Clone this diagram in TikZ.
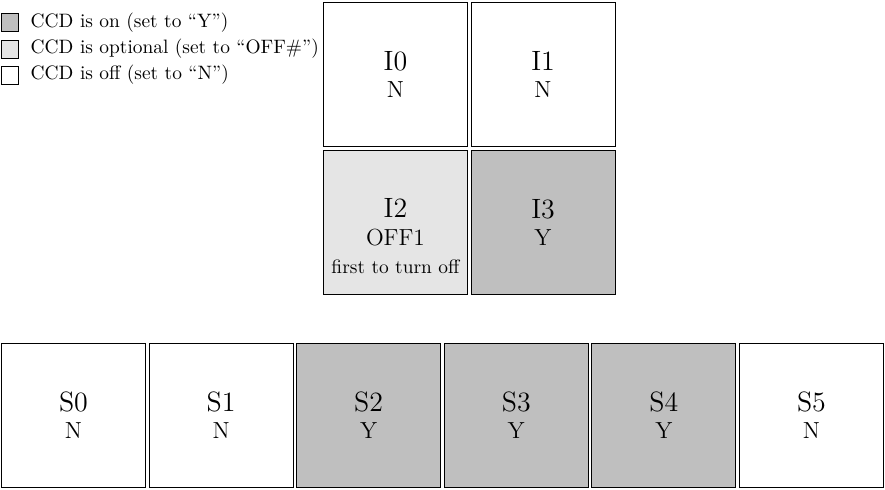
\documentclass[tikz,border=0pt]{standalone}
\usepackage{amsmath}
\usepackage{tikz}

\begin{document}
\begin{tikzpicture}[node distance=2.675cm,
  box node/.style={rectangle,draw,line width=0.5pt,minimum size=2.61cm,inner sep=0pt,align=center,font=\large},
  on node/.style={box node,fill=gray!50},
  opt node/.style={box node,fill=gray!20},
  off node/.style={box node,fill=white},
  key node/.style={rectangle,draw,line width=0.5pt,minimum size=0.326cm,inner sep=0pt}]

  \useasboundingbox (0,0) rectangle (16.04,8.88);

  % legend
  \node[key node,fill=gray!50] (kon) at (0.181,8.471) {};
  \node[key node,fill=gray!20] (kopt) at (0.181,7.991) {};
  \node[key node,fill=white] (koff) at (0.181,7.520) {};
  \node[anchor=west,xshift=0.08cm] (kontext) at (kon.east) {CCD is on (set to “Y”)};
  \node[anchor=west,xshift=0.08cm] (kopttext) at (kopt.east) {CCD is optional (set to “OFF\#”)};
  \node[anchor=west,xshift=0.08cm] (kofftext) at (koff.east) {CCD is off (set to “N”)};

  % I row
  \node[off node] (I0) at (7.167,7.529) {{\Large I0}\\N};
  \node[off node] (I1) [right of=I0] {{\Large I1}\\N};
  \node[opt node] (I2) [below of=I0] {{\Large I2}\\OFF1};
  \node[on node] (I3) [right of=I2] {{\Large I3}\\Y};
  \node (i2note) [below of=I2,node distance=0.806cm] {first to turn off};

  % S row
  \node[off node] (S0) at (1.332,1.35) {{\Large S0}\\N};
  \node[off node] (S1) [right of=S0] {{\Large S1}\\N};
  \node[on node] (S2) [right of=S1] {{\Large S2}\\Y};
  \node[on node] (S3) [right of=S2] {{\Large S3}\\Y};
  \node[on node] (S4) [right of=S3] {{\Large S4}\\Y};
  \node[off node] (S5) [right of=S4] {{\Large S5}\\N};

\end{tikzpicture}
\end{document}
